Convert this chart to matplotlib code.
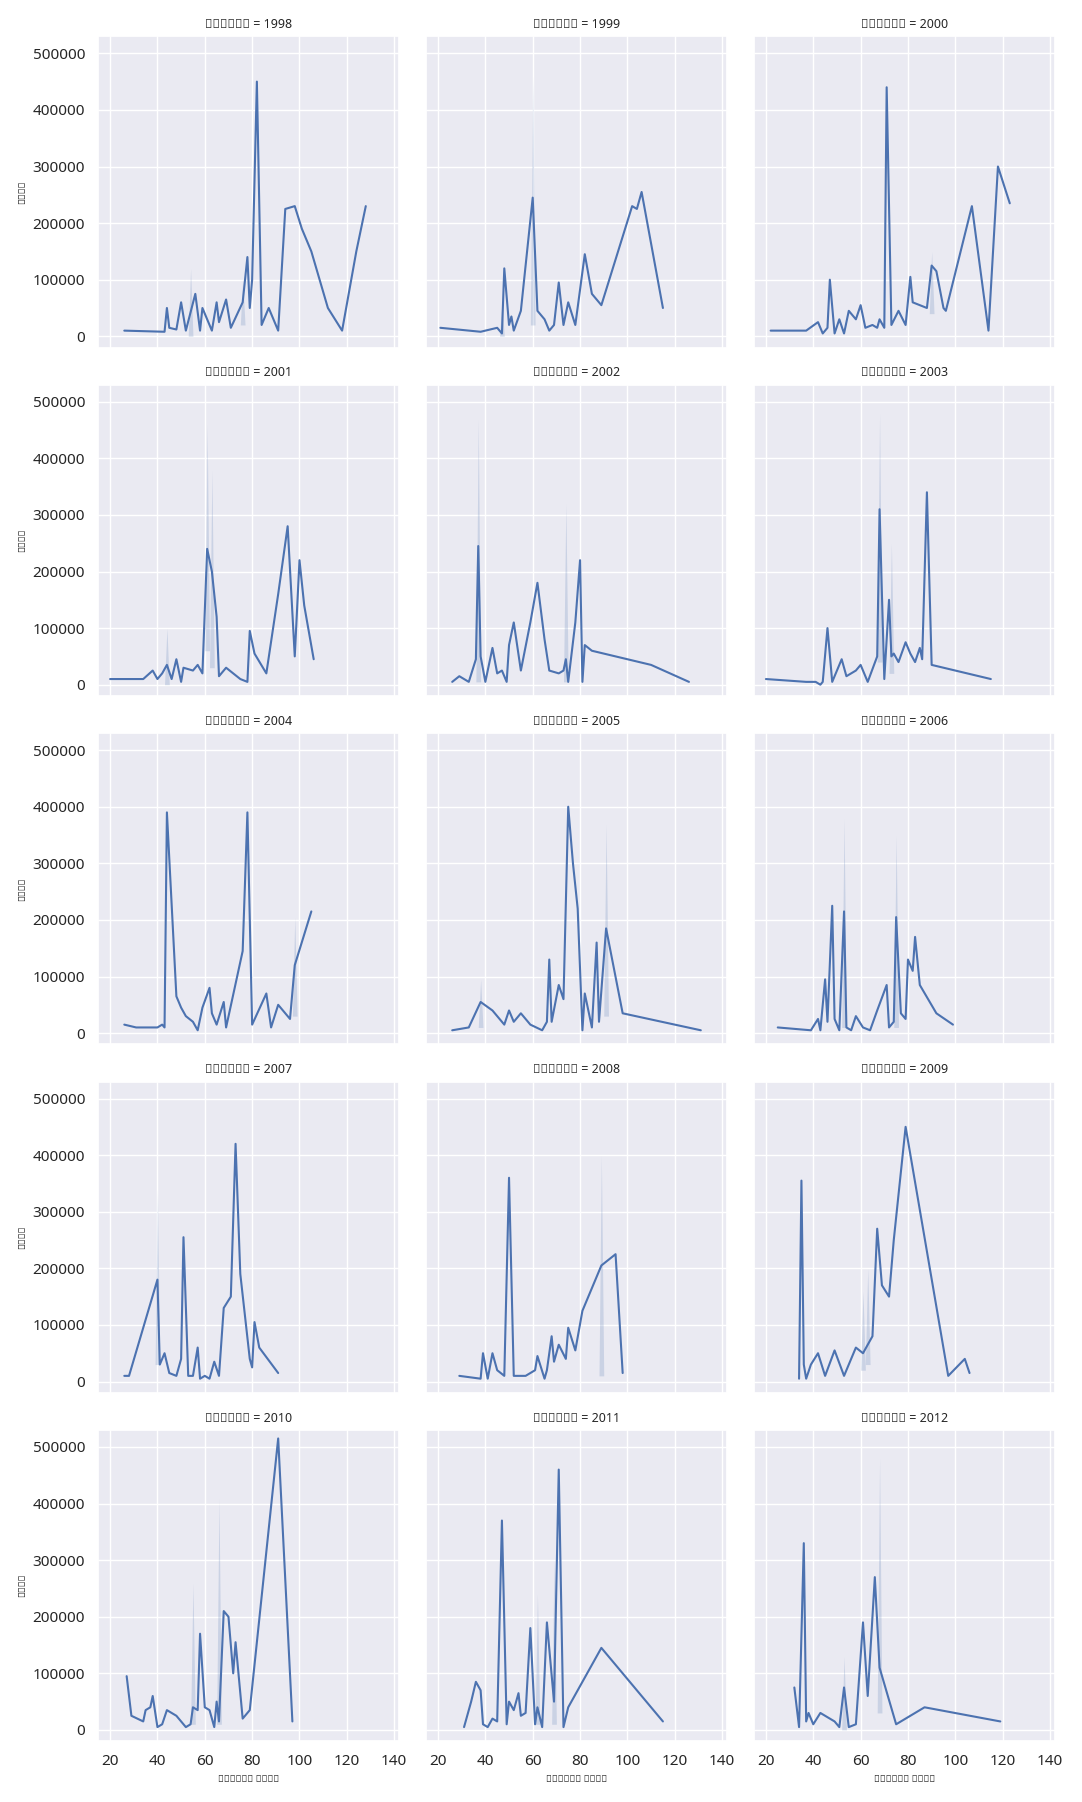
import matplotlib
matplotlib.use("Agg")
import matplotlib.pyplot as plt
import seaborn as sns

sns.set_theme(style="darkgrid")
plt.rcParams['font.family'] = ['Noto Sans', 'DejaVu Sans']

years = list(range(1998, 2013))

x_vals = {
    1998: [26, 43, 44, 45, 48, 50, 52, 56, 58, 59, 63, 65, 66, 69, 71, 76, 78, 79, 80, 82, 84, 87, 91, 94, 98, 101, 105, 112, 118, 124, 128],
    1999: [21, 38, 45, 47, 48, 50, 51, 52, 55, 60, 62, 65, 67, 69, 71, 73, 75, 78, 82, 85, 89, 102, 104, 106, 115],
    2000: [22, 37, 42, 44, 46, 47, 49, 51, 53, 55, 58, 60, 62, 65, 67, 68, 70, 71, 73, 76, 79, 81, 82, 88, 90, 92, 95, 96, 107, 114, 118, 123],
    2001: [20, 34, 38, 40, 42, 44, 46, 48, 50, 51, 55, 57, 59, 61, 63, 65, 66, 69, 75, 78, 79, 81, 86, 91, 95, 98, 100, 102, 106],
    2002: [26, 29, 33, 36, 37, 38, 40, 43, 45, 47, 49, 50, 52, 55, 59, 62, 65, 67, 71, 73, 74, 75, 77, 78, 80, 81, 82, 85, 110, 126],
    2003: [20, 37, 41, 43, 44, 46, 48, 49, 52, 54, 58, 60, 62, 63, 67, 68, 70, 72, 73, 74, 76, 79, 81, 83, 85, 86, 88, 90, 115],
    2004: [26, 31, 40, 42, 43, 44, 48, 50, 52, 55, 57, 59, 62, 63, 65, 68, 69, 76, 78, 80, 86, 88, 91, 96, 98, 105],
    2005: [26, 33, 38, 43, 45, 48, 50, 52, 55, 59, 64, 66, 67, 68, 71, 73, 75, 77, 79, 81, 82, 85, 87, 88, 91, 98, 131],
    2006: [25, 39, 42, 43, 45, 46, 48, 49, 51, 53, 54, 56, 58, 61, 64, 67, 71, 72, 74, 75, 77, 79, 80, 82, 83, 85, 92, 99],
    2007: [26, 28, 40, 41, 43, 45, 48, 50, 51, 53, 55, 57, 58, 60, 62, 64, 66, 68, 71, 73, 75, 79, 80, 81, 83, 91],
    2008: [29, 38, 39, 41, 43, 45, 48, 50, 52, 57, 61, 62, 65, 66, 68, 69, 71, 74, 75, 78, 81, 89, 95, 98],
    2009: [34, 35, 36, 37, 39, 42, 45, 49, 53, 58, 61, 65, 67, 69, 72, 74, 79, 97, 104, 106],
    2010: [27, 29, 34, 35, 37, 38, 40, 42, 44, 48, 50, 52, 54, 55, 57, 58, 60, 62, 64, 65, 66, 68, 70, 72, 73, 76, 79, 91, 97],
    2011: [31, 34, 36, 38, 39, 41, 43, 45, 47, 49, 50, 52, 54, 55, 57, 59, 61, 62, 64, 66, 69, 71, 73, 75, 89, 115],
    2012: [32, 34, 36, 37, 38, 40, 43, 45, 49, 51, 53, 55, 58, 59, 61, 63, 66, 68, 75, 87, 119],
}

y_vals = {
    1998: [10000, 8000, 50000, 15000, 12000, 60000, 10000, 75000, 10000, 50000, 10000, 60000, 25000, 65000, 15000, 60000, 140000, 50000, 100000, 450000, 20000, 50000, 10000, 225000, 230000, 190000, 150000, 50000, 10000, 150000, 230000],
    1999: [15000, 8000, 15000, 5000, 120000, 20000, 35000, 10000, 45000, 245000, 45000, 30000, 10000, 20000, 95000, 20000, 60000, 20000, 145000, 75000, 55000, 230000, 225000, 255000, 50000],
    2000: [10000, 10000, 25000, 5000, 15000, 100000, 5000, 30000, 5000, 45000, 30000, 55000, 15000, 20000, 15000, 30000, 15000, 440000, 20000, 45000, 20000, 105000, 60000, 50000, 125000, 115000, 50000, 45000, 230000, 10000, 300000, 235000],
    2001: [10000, 10000, 25000, 10000, 20000, 35000, 10000, 45000, 5000, 30000, 25000, 35000, 20000, 240000, 200000, 120000, 15000, 30000, 10000, 5000, 95000, 55000, 20000, 160000, 280000, 50000, 220000, 140000, 45000],
    2002: [5000, 15000, 5000, 45000, 245000, 50000, 5000, 65000, 20000, 25000, 5000, 70000, 110000, 25000, 110000, 180000, 80000, 25000, 20000, 25000, 45000, 5000, 75000, 110000, 220000, 5000, 70000, 60000, 35000, 5000],
    2003: [10000, 5000, 5000, 0, 5000, 100000, 5000, 15000, 45000, 15000, 25000, 35000, 15000, 5000, 50000, 310000, 10000, 150000, 50000, 55000, 40000, 75000, 55000, 40000, 65000, 45000, 340000, 35000, 10000],
    2004: [15000, 10000, 10000, 15000, 10000, 390000, 65000, 45000, 30000, 20000, 5000, 45000, 80000, 35000, 15000, 55000, 10000, 145000, 390000, 15000, 70000, 10000, 50000, 25000, 120000, 215000],
    2005: [5000, 10000, 55000, 40000, 30000, 15000, 40000, 20000, 35000, 15000, 5000, 20000, 130000, 20000, 85000, 60000, 400000, 300000, 220000, 5000, 70000, 10000, 160000, 20000, 185000, 35000, 5000],
    2006: [10000, 5000, 25000, 5000, 95000, 20000, 225000, 25000, 5000, 215000, 10000, 5000, 30000, 10000, 5000, 40000, 85000, 10000, 20000, 205000, 35000, 25000, 130000, 110000, 170000, 85000, 35000, 15000],
    2007: [10000, 10000, 180000, 30000, 50000, 15000, 10000, 40000, 255000, 10000, 10000, 60000, 5000, 10000, 5000, 35000, 10000, 130000, 150000, 420000, 190000, 40000, 25000, 105000, 60000, 15000],
    2008: [10000, 5000, 50000, 5000, 50000, 20000, 10000, 360000, 10000, 10000, 20000, 45000, 5000, 20000, 80000, 35000, 65000, 40000, 95000, 55000, 125000, 205000, 225000, 15000],
    2009: [5000, 355000, 30000, 5000, 30000, 50000, 10000, 55000, 10000, 60000, 50000, 80000, 270000, 170000, 150000, 250000, 450000, 10000, 40000, 15000],
    2010: [95000, 25000, 15000, 35000, 40000, 60000, 5000, 10000, 35000, 25000, 15000, 5000, 10000, 40000, 35000, 170000, 40000, 35000, 5000, 50000, 15000, 210000, 200000, 100000, 155000, 20000, 35000, 515000, 15000],
    2011: [5000, 50000, 85000, 70000, 10000, 5000, 20000, 15000, 370000, 10000, 50000, 35000, 65000, 25000, 30000, 180000, 10000, 40000, 5000, 190000, 50000, 460000, 5000, 40000, 145000, 15000],
    2012: [75000, 5000, 330000, 15000, 30000, 10000, 30000, 25000, 15000, 5000, 75000, 5000, 10000, 70000, 190000, 60000, 270000, 110000, 10000, 40000, 15000],
}

# confidence bands: (x, low, high)
bands = {
    1998: [(54, 0, 120000), (76, 20000, 100000)],
    1999: [(60, 20000, 460000), (47, 0, 60000)],
    2000: [(90, 40000, 150000)],
    2001: [(44, 0, 100000), (61, 60000, 460000), (63, 30000, 380000)],
    2002: [(37, 5000, 470000), (74, 5000, 320000)],
    2003: [(68, 40000, 480000), (73, 20000, 250000)],
    2004: [(98, 30000, 205000)],
    2005: [(91, 30000, 370000), (38, 10000, 95000)],
    2006: [(53, 10000, 380000), (75, 10000, 350000)],
    2007: [(40, 30000, 340000)],
    2008: [(89, 10000, 400000)],
    2009: [(61, 20000, 160000), (63, 30000, 200000)],
    2010: [(55, 10000, 260000), (66, 10000, 410000)],
    2011: [(62, 10000, 240000), (69, 10000, 300000)],
    2012: [(53, 0, 130000), (68, 30000, 480000)],
}

fig, axes = plt.subplots(5, 3, figsize=(10.82, 18.02), sharex=True, sharey=True)

for ax, yr in zip(axes.flat, years):
    ax.plot(x_vals[yr], y_vals[yr], color="#4c72b0", lw=1.5)
    for bx, lo, hi in bands[yr]:
        ax.fill_between([bx - 1, bx, bx + 1], [y_vals[yr][0] * 0 + lo] * 3, [lo, hi, lo],
                        color="#4c72b0", alpha=0.2, lw=0)
    ax.set_title(f"வருடம் = {yr}", fontsize=9)

axes[0, 0].set_xlim(15, 142)
axes[0, 0].set_ylim(-20000, 530000)
axes[0, 0].set_xticks([20, 40, 60, 80, 100, 120, 140])
axes[0, 0].set_yticks([0, 100000, 200000, 300000, 400000, 500000])

for ax in axes[:, 0]:
    ax.set_ylabel("விலை", fontsize=7)
for ax in axes[-1, :]:
    ax.set_xlabel("சராசரி வயது", fontsize=7)

fig.tight_layout()
fig.savefig("out.png", dpi=100)
